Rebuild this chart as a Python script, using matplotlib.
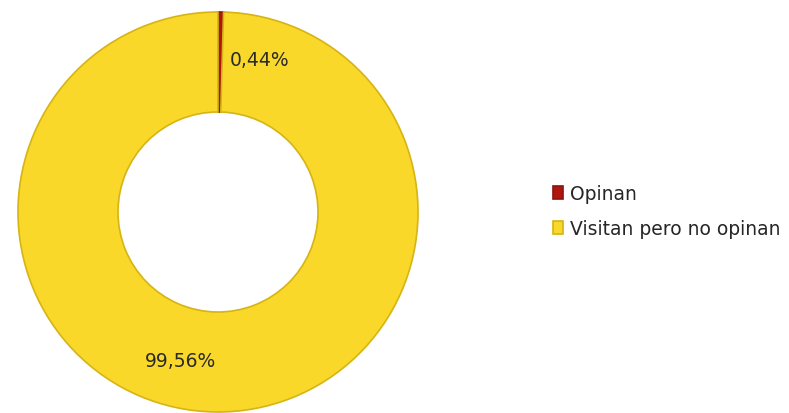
import matplotlib.pyplot as plt

labels = ["Opinan", "Visitan pero no opinan"]
values = [0.44, 99.56]
value_text = ["0,44%", "99,56%"]
colors = ["#B0160E", "#F9D82A"]

fig = plt.figure(figsize=(7.89, 4.14), dpi=100)
ax = fig.add_axes([18 / 789, 1 / 414, 400 / 789, 400 / 414])

wedges, _ = ax.pie(values, colors=colors, startangle=90, counterclock=False,
                   radius=1.0, wedgeprops=dict(width=0.5, edgecolor="#D6B414", linewidth=1.2))
wedges[0].set_edgecolor("#8A1410")

# labels sit off-centre in the original, so place them by hand
ax.text(0.21, 0.76, value_text[0], ha="center", va="center", fontsize=13.5, color="#2a2a2a")
ax.text(-0.19, -0.745, value_text[1], ha="center", va="center", fontsize=13.5, color="#2a2a2a")

ax.set_xlim(-1.0, 1.0)
ax.set_ylim(-1.0, 1.0)
ax.set_aspect("equal")
ax.axis("off")

leg = fig.legend(wedges, labels, loc="center left", bbox_to_anchor=(553 / 789, 1 - 212 / 414),
                 frameon=False, fontsize=13.5, handlelength=0.55, handleheight=0.65,
                 handletextpad=0.35, labelspacing=0.85, borderpad=0, borderaxespad=0)
for t in leg.get_texts():
    t.set_color("#262626")

fig.savefig("out.png", dpi=100)
